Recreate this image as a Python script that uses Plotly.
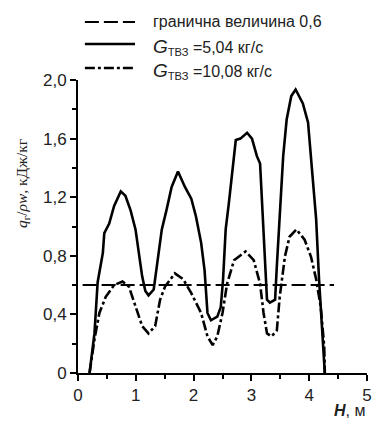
import plotly.graph_objects as go

# Heat-load profile along the fuel assembly height H, m
h_504 = [0.20, 0.285, 0.34, 0.43, 0.455, 0.54, 0.625, 0.74, 0.82, 0.91, 0.995, 1.05, 1.11, 1.165,
         1.22, 1.31, 1.35, 1.39, 1.45, 1.53, 1.62, 1.73, 1.85, 1.96, 2.04, 2.13, 2.19, 2.24, 2.30,
         2.41, 2.47, 2.51, 2.555, 2.61, 2.67, 2.73, 2.81, 2.925, 3.01, 3.095, 3.15, 3.18, 3.24,
         3.27, 3.32, 3.41, 3.44, 3.49, 3.55, 3.61, 3.69, 3.765, 3.89, 3.98, 4.06, 4.12, 4.17,
         4.23, 4.26, 4.27]
q_504 = [0.0, 0.27, 0.62, 0.82, 0.955, 1.02, 1.14, 1.24, 1.21, 1.11, 0.98, 0.82, 0.66, 0.56,
         0.53, 0.57, 0.68, 0.82, 0.98, 1.11, 1.27, 1.375, 1.27, 1.19, 1.07, 0.89, 0.70, 0.41, 0.36,
         0.385, 0.45, 0.64, 0.98, 1.16, 1.39, 1.59, 1.60, 1.64, 1.60, 1.48, 1.43, 1.21, 0.73,
         0.50, 0.48, 0.50, 0.73, 1.09, 1.48, 1.73, 1.89, 1.935, 1.84, 1.71, 1.32, 1.05, 0.64,
         0.25, 0.04, 0.0]

h_1008 = [0.20, 0.285, 0.37, 0.48, 0.625, 0.77, 0.88, 0.995, 1.11, 1.22, 1.335, 1.42, 1.506,
          1.676, 1.82, 1.96, 2.13, 2.24, 2.33, 2.41, 2.50, 2.58, 2.70, 2.90, 3.04, 3.15, 3.21,
          3.27, 3.35, 3.44, 3.49, 3.58, 3.66, 3.78, 3.92, 4.03, 4.12, 4.20, 4.26, 4.27]
q_1008 = [0.0, 0.23, 0.41, 0.52, 0.60, 0.625, 0.59, 0.45, 0.32, 0.27, 0.32, 0.50, 0.59,
          0.68, 0.64, 0.545, 0.41, 0.25, 0.19, 0.25, 0.41, 0.61, 0.77, 0.83, 0.77, 0.61, 0.41,
          0.27, 0.25, 0.29, 0.52, 0.795, 0.93, 0.98, 0.91, 0.795, 0.64, 0.45, 0.18, 0.0]

limit_value = 0.6
limit_h = [0.08, 4.43]

x_ticks = [0, 1, 2, 3, 4, 5]
y_ticks = [0, 0.4, 0.8, 1.2, 1.6, 2.0]
y_tick_text = ["0", "0,4", "0,8", "1,2", "1,6", "2,0"]

g_label = "<span style='font-size:19px'><i>G</i></span><sub>ТВЗ</sub> ="
legend_names = [
    "гранична величина 0,6",
    g_label + "5,04 кг/с",
    g_label + "10,08 кг/с",
]

W, H = 376, 425
M = dict(l=78, r=4, t=80, b=52)
pw, ph = W - M["l"] - M["r"], H - M["t"] - M["b"]


def px_x(px):
    return (px - M["l"]) / pw


def px_y(py):
    return (H - M["b"] - py) / ph


line_styles = [
    dict(color="black", width=2, dash="14px,5px"),
    dict(color="black", width=2.6),
    dict(color="black", width=2.6, dash="10px,3px,3px,3px"),
]

fig = go.Figure()
fig.add_trace(go.Scatter(x=limit_h, y=[limit_value] * len(limit_h), mode="lines",
                         name=legend_names[0], line=line_styles[0], showlegend=False))
fig.add_trace(go.Scatter(x=h_504, y=q_504, mode="lines",
                         name=legend_names[1], line=line_styles[1], showlegend=False))
fig.add_trace(go.Scatter(x=h_1008, y=q_1008, mode="lines",
                         name=legend_names[2], line=line_styles[2], showlegend=False))

# Legend block drawn above the plot area
legend_rows_y = [22, 44, 68]
legend_text_y = [22, 47, 71]
for name, style, ly, ty in zip(legend_names, line_styles, legend_rows_y, legend_text_y):
    fig.add_shape(type="line", xref="paper", yref="paper",
                  x0=px_x(85), x1=px_x(136), y0=px_y(ly), y1=px_y(ly),
                  line=dict(color=style["color"], width=style["width"],
                            dash=style.get("dash", "solid")))
    fig.add_annotation(text=name, xref="paper", yref="paper",
                       x=px_x(152), y=px_y(ty), xanchor="left", yanchor="middle",
                       showarrow=False,
                       font=dict(family="Liberation Sans, Arial", size=16, color="#222"))

axis_font = dict(family="Liberation Sans, Arial", size=17, color="#222")

fig.update_layout(
    width=W, height=H,
    margin=M,
    paper_bgcolor="white", plot_bgcolor="white",
    showlegend=False,
    xaxis=dict(
        range=[0, 5], tickvals=x_ticks, ticktext=[str(v) for v in x_ticks],
        showline=True, linecolor="black", linewidth=2,
        ticks="outside", ticklen=6, tickwidth=1.5, tickcolor="black",
        minor=dict(dtick=0.5, ticks="outside", ticklen=4, tickcolor="black", tickwidth=1.5),
        showgrid=False, zeroline=False, tickfont=axis_font,
        ticklabeloverflow="allow",
    ),
    yaxis=dict(
        range=[0, 2.0], tickvals=y_ticks, ticktext=y_tick_text,
        showline=True, linecolor="black", linewidth=2,
        ticks="outside", ticklen=6, tickwidth=1.5, tickcolor="black",
        minor=dict(dtick=0.2, ticks="outside", ticklen=4, tickcolor="black", tickwidth=1.5),
        showgrid=False, zeroline=False, tickfont=axis_font,
    ),
)

# Y-axis title
fig.add_annotation(
    text="<i>q</i><sub>г</sub>/<i>ρw</i>, кДж/кг", xref="paper", yref="paper",
    x=px_x(21), y=px_y(183), xanchor="center", yanchor="middle", textangle=-90,
    showarrow=False,
    font=dict(family="Liberation Serif, Times New Roman", size=15.5, color="#222"),
)

# X-axis title
fig.add_annotation(
    text="<b><i>H</i></b>, м", xref="paper", yref="paper",
    x=1.0, y=px_y(400), xanchor="right", yanchor="top", showarrow=False,
    font=dict(family="Liberation Sans, Arial", size=16, color="#222"),
)

fig.write_html("out.html")
